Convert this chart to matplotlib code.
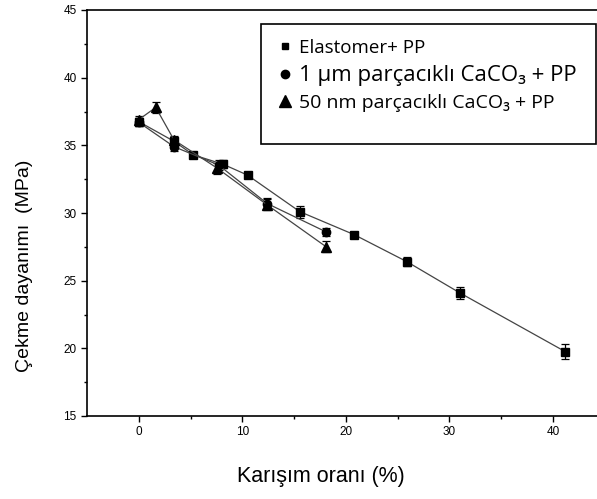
import numpy as np
import matplotlib
matplotlib.use("Agg")
import matplotlib.pyplot as plt
from matplotlib.lines import Line2D
from matplotlib.patches import Rectangle

# Elastomer + PP
x_elast = [0, 3.4, 5.25, 8.15, 10.5, 15.55, 20.8, 25.9, 31.0, 41.2]
y_elast = [36.75, 35.3, 34.3, 33.6, 32.8, 30.1, 28.4, 26.4, 24.1, 19.75]
e_elast = [0.3, 0.3, 0.2, 0.3, 0.2, 0.45, 0.2, 0.35, 0.45, 0.55]

# 1 um CaCO3 + PP
x_um = [0, 3.4, 7.7, 12.4, 18.1]
y_um = [36.7, 34.9, 33.55, 30.7, 28.6]
e_um = [0.3, 0.3, 0.4, 0.4, 0.3]

# 50 nm CaCO3 + PP
x_nm = [0, 1.64, 3.4, 7.6, 12.4, 18.1]
y_nm = [36.9, 37.8, 35.4, 33.3, 30.6, 27.5]
e_nm = [0.3, 0.4, 0.3, 0.4, 0.4, 0.4]

labels = ["Elastomer+ PP", "1 µm parçacıklı CaCO₃ + PP", "50 nm parçacıklı CaCO₃ + PP"]

plt.rcParams['font.family'] = ['Liberation Sans', 'DejaVu Sans']

fig = plt.figure(figsize=(5.97, 4.99), dpi=100)
ax = fig.add_axes([87/597, 83/499, 1 - 87/597, 406/499])

line_kw = dict(color='#444444', lw=0.9, ecolor='black', elinewidth=0.9,
               capsize=3, capthick=0.9, mfc='black', mec='black')
ax.errorbar(x_elast, y_elast, yerr=e_elast, marker='s', ms=5.5, **line_kw)
ax.errorbar(x_um, y_um, yerr=e_um, marker='o', ms=6, **line_kw)
ax.errorbar(x_nm, y_nm, yerr=e_nm, marker='^', ms=6.5, **line_kw)

ax.set_xlim(-5, 44.25)
ax.set_ylim(15, 45)
ax.set_xticks([0, 10, 20, 30, 40])
ax.set_xticks([5, 15, 25, 35], minor=True)
ax.set_yticks([15, 20, 25, 30, 35, 40, 45])
ax.set_yticks(np.arange(17.5, 45, 5), minor=True)
ax.tick_params(which='major', direction='out', length=4, width=1, labelsize=8.5)
ax.tick_params(which='minor', direction='out', length=2.5, width=1)
ax.spines['right'].set_visible(False)
for s in ['left', 'bottom', 'top']:
    ax.spines[s].set_linewidth(1.2)

ax.set_xlabel("Karışım oranı (%)", fontsize=15.5)
ax.xaxis.set_label_coords(0.459, -0.123)
ax.set_ylabel("Çekme dayanımı  (MPa)", fontsize=14)
ax.yaxis.set_label_coords(-0.106, 0.369)

# legend box
ax.add_patch(Rectangle((0.341, 0.67), 0.657, 0.296, transform=ax.transAxes,
                       fill=False, edgecolor='black', lw=1.2, zorder=5))

handles = [
    Line2D([], [], ls='none', marker='s', ms=5, color='black'),
    Line2D([], [], ls='none', marker='o', ms=6, color='black'),
    Line2D([], [], ls='none', marker='^', ms=8, color='black'),
]
leg = ax.legend(handles, labels, loc='upper left', bbox_to_anchor=(0.37, 0.938),
                frameon=False, handlelength=0.6, handletextpad=0.45,
                labelspacing=0.42, borderpad=0.2, borderaxespad=0,
                prop={'family': ['Open Sans', 'DejaVu Sans'], 'size': 13.5})
texts = leg.get_texts()
texts[1].set_fontsize(16)
texts[2].set_fontsize(14)

fig.savefig("out.png", dpi=100)
